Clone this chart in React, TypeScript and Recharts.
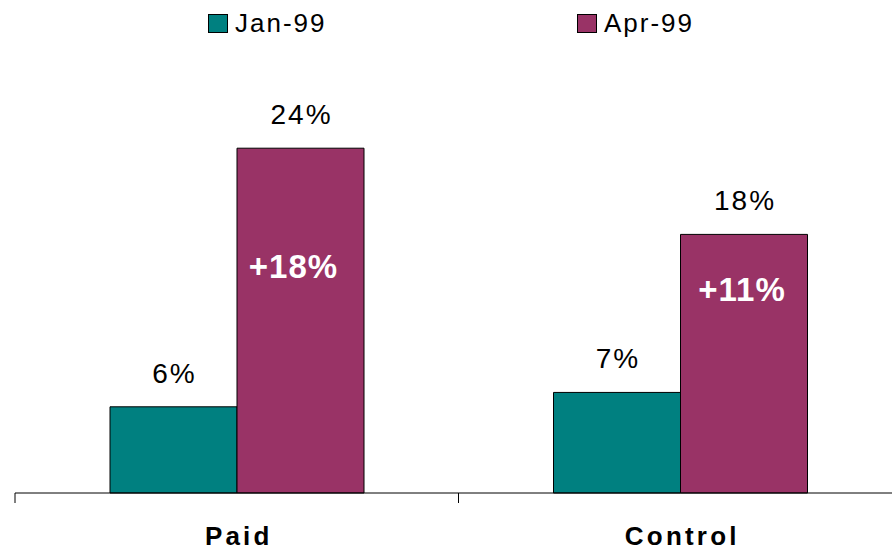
import { BarChart, Bar, XAxis, YAxis, LabelList } from "recharts";

const categories = ["Paid", "Control"];
const jan99 = [6, 7];
const apr99 = [24, 18];
const changeLabels = ["+18%", "+11%"];
const seriesNames = ["Jan-99", "Apr-99"];
const seriesColors = ["#008080", "#993366"];

const data = categories.map((name, i) => ({
  name,
  jan: jan99[i],
  apr: apr99[i],
  change: changeLabels[i],
}));

const CHART_W = 902;
const CHART_H = 553;
const MARGIN = { top: 62, right: 0, bottom: 0, left: 15 };
const BAND = (CHART_W - MARGIN.left - MARGIN.right) / categories.length;
// where the white change label sits inside the Apr bar
const changeDy = [130, 67];
const changeDx = [-7, -2];

const FONT = "'Liberation Sans', Arial, sans-serif";

function CategoryTick(props: any) {
  const { x, y, payload, index } = props;
  const left = x - BAND / 2;
  return (
    <g>
      <line x1={left} y1={y} x2={left} y2={y + 10} stroke="#000" />
      {index === categories.length - 1 && (
        <line x1={x + BAND / 2} y1={y} x2={x + BAND / 2} y2={y + 10} stroke="#000" />
      )}
      <text
        x={x + 2}
        y={y + 52}
        textAnchor="middle"
        fontFamily={FONT}
        fontWeight="bold"
        fontSize={26}
        letterSpacing={3.2}
        fill="#000"
      >
        {payload.value}
      </text>
    </g>
  );
}

function ValueLabel(props: any) {
  const { x, y, width, value } = props;
  return (
    <text
      x={x + width / 2 + 1}
      y={y - 24}
      textAnchor="middle"
      fontFamily={FONT}
      fontSize={28}
      letterSpacing={2}
      fill="#000"
    >
      {value}%
    </text>
  );
}

function ChangeLabel(props: any) {
  const { x, y, width, value, index } = props;
  return (
    <text
      x={x + width / 2 + changeDx[index]}
      y={y + changeDy[index]}
      textAnchor="middle"
      fontFamily={FONT}
      fontWeight="bold"
      fontSize={33}
      letterSpacing={1}
      fill="#fff"
    >
      {value}
    </text>
  );
}

export default function App() {
  const legendX = [208, 577];
  return (
    <div
      style={{
        position: "absolute",
        left: 0,
        top: 0,
        width: 892,
        height: CHART_H,
        overflow: "hidden",
        background: "#fff",
      }}
    >
      {seriesNames.map((s, i) => (
        <div
          key={s}
          style={{
            position: "absolute",
            left: legendX[i],
            top: 8,
            display: "flex",
            alignItems: "center",
            fontFamily: FONT,
            fontSize: 26,
            letterSpacing: 2,
            color: "#000",
          }}
        >
          <span
            style={{
              display: "inline-block",
              width: 18,
              height: 17,
              background: seriesColors[i],
              border: "1px solid #000",
              marginRight: 7,
            }}
          />
          {s}
        </div>
      ))}
      <BarChart
        width={CHART_W}
        height={CHART_H}
        data={data}
        margin={MARGIN}
        barGap={0}
        barSize={127}
      >
        <XAxis
          dataKey="name"
          height={60}
          axisLine={{ stroke: "#000", strokeWidth: 1 }}
          tickLine={false}
          tickSize={0}
          tickMargin={0}
          interval={0}
          tick={<CategoryTick />}
        />
        <YAxis hide domain={[0, 30]} />
        <Bar
          dataKey="jan"
          name={seriesNames[0]}
          fill={seriesColors[0]}
          stroke="#000"
          strokeWidth={1}
          isAnimationActive={false}
        >
          <LabelList dataKey="jan" content={<ValueLabel />} />
        </Bar>
        <Bar
          dataKey="apr"
          name={seriesNames[1]}
          fill={seriesColors[1]}
          stroke="#000"
          strokeWidth={1}
          isAnimationActive={false}
        >
          <LabelList dataKey="apr" content={<ValueLabel />} />
          <LabelList dataKey="change" content={<ChangeLabel />} />
        </Bar>
      </BarChart>
    </div>
  );
}
